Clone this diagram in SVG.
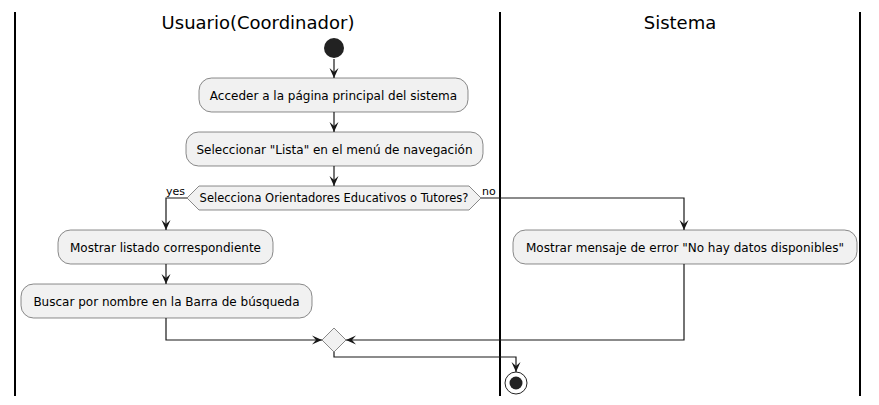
<svg xmlns="http://www.w3.org/2000/svg" width="879" height="405" viewBox="0 0 879 405">
<style>
.lane{stroke:#000;stroke-width:2;fill:none}
.title{font-family:"DejaVu Sans",sans-serif;font-size:18px;fill:#000;text-anchor:middle}
.act rect{fill:#F1F1F1;stroke:#181818;stroke-width:0.5}
.act text,.dec text{font-family:"DejaVu Sans",sans-serif;font-size:12px;fill:#000;text-anchor:middle}
.dec polygon{fill:#F1F1F1;stroke:#181818;stroke-width:0.5}
.dec text{font-size:11.5px}
.lbl{font-family:"DejaVu Sans",sans-serif;font-size:11px;fill:#000}
.edge{stroke:#181818;stroke-width:1.2;fill:none;marker-end:url(#ah)}
</style>
<defs>
<marker id="ah" markerUnits="userSpaceOnUse" markerWidth="11" markerHeight="11" refX="10" refY="5" orient="auto">
<path d="M0,0.5 L10,5 L0,9.5 L4,5 Z" fill="#181818"/>
</marker>
</defs>
<rect width="879" height="405" fill="#fff"/>
<g id="lanes">
<line class="lane" x1="15" y1="12" x2="15" y2="396"/>
<line class="lane" x1="500" y1="12" x2="500" y2="396"/>
<line class="lane" x1="860" y1="12" x2="860" y2="396"/>
<text class="title" x="258" y="29">Usuario(Coordinador)</text>
<text class="title" x="680" y="29">Sistema</text>
</g>
<g id="connectors">
<path class="edge" d="M334,59 L334,78"/>
<path class="edge" d="M334,112 L334,132"/>
<path class="edge" d="M334,166 L334,186"/>
<path class="edge" d="M187,198 L166,198 L166,230"/>
<path class="edge" d="M481,198 L684,198 L684,230"/>
<path class="edge" d="M166,264 L166,284"/>
<path class="edge" d="M166,318 L166,340 L322,340"/>
<path class="edge" d="M684,264 L684,340 L346,340"/>
<path class="edge" d="M334,352 L334,357 L516,357 L516,372"/>
<text class="lbl" x="166" y="195">yes</text>
<text class="lbl" x="482" y="195">no</text>
</g>
<g id="start"><circle cx="334" cy="48" r="10" fill="#222"/></g>
<g id="a1" class="act"><rect x="199" y="78" width="269" height="34" rx="12.5"/><text x="333.5" y="99.5">Acceder a la página principal del sistema</text></g>
<g id="a2" class="act"><rect x="186" y="132" width="297" height="34" rx="12.5"/><text x="334.5" y="153.5">Seleccionar "Lista" en el menú de navegación</text></g>
<g id="d1" class="dec"><polygon points="187,198 199,186 469,186 481,198 469,210 199,210"/><text x="334" y="202">Selecciona Orientadores Educativos o Tutores?</text></g>
<g id="a3" class="act"><rect x="58" y="230" width="215" height="34" rx="12.5"/><text x="165.5" y="251.5">Mostrar listado correspondiente</text></g>
<g id="a4" class="act"><rect x="21" y="284" width="291" height="34" rx="12.5"/><text x="166.5" y="305.5">Buscar por nombre en la Barra de búsqueda</text></g>
<g id="a5" class="act"><rect x="513" y="230" width="344" height="34" rx="12.5"/><text x="685" y="251.5">Mostrar mensaje de error "No hay datos disponibles"</text></g>
<g id="merge" class="dec"><polygon points="334,328 346,340 334,352 322,340"/></g>
<g id="end"><circle cx="516" cy="383" r="11" fill="none" stroke="#222" stroke-width="1"/><circle cx="516" cy="383" r="6.5" fill="#222"/></g>
</svg>
